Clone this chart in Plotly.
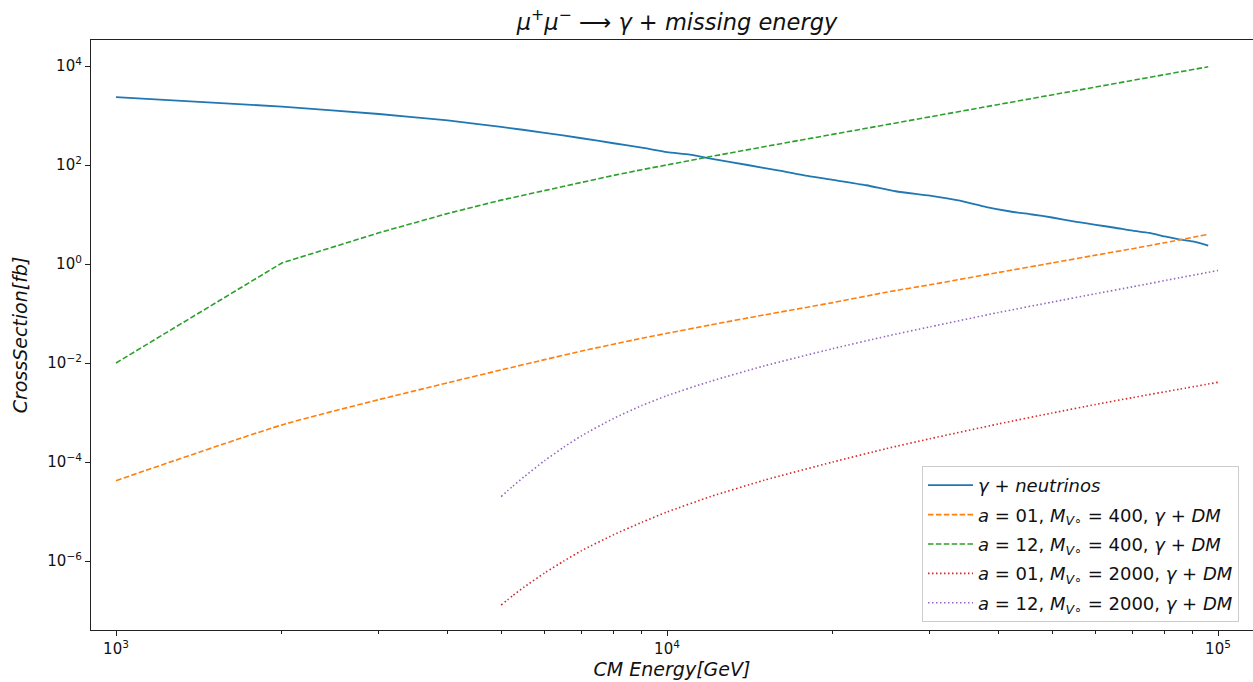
import plotly.graph_objects as go

# ---------------- data ----------------
energy_nu = [1000, 2000, 3000, 4000, 5000, 6000, 7000, 8000, 9000, 10000,
             11000, 12000, 14000, 16000, 18000, 20000, 23000, 26000, 30000,
             34000, 38000, 42000, 46000, 50000, 55000, 60000, 65000, 70000,
             75000, 80000, 85000, 90000, 96000]
xsec_nu = [2344, 1514, 1072, 794, 589, 447, 347, 275, 224, 182,
           162, 135, 100, 77, 60, 50, 39, 29.5, 24.0,
           19.0, 14.1, 11.5, 10.0, 8.7, 7.2, 6.2, 5.4, 4.7,
           4.25, 3.6, 3.15, 2.85, 2.35]

energy_400 = [1000, 2000, 3000, 4000, 5000, 6000, 7000, 8000, 9000, 10000,
              12000, 15000, 20000, 25000, 30000, 40000, 50000, 60000, 70000, 80000, 96000]
xsec_a01_400 = [4.2e-5, 5.6e-4, 1.82e-3, 3.98e-3, 7.24e-3, 1.17e-2, 1.74e-2, 2.40e-2, 3.16e-2, 3.98e-2,
                5.89e-2, 9.33e-2, 0.166, 0.269, 0.38, 0.676, 1.05, 1.51, 2.04, 2.69, 3.98]
xsec_a12_400 = [0.01, 1.05, 4.27, 10.5, 19.5, 30.9, 45.2, 61.7, 80.4, 101,
                148, 234, 417, 640, 933, 1660, 2600, 3760, 5130, 6680, 9660]

energy_2000 = [5000, 5250, 5500, 6000, 6500, 7000, 8000, 9000, 10000, 12000, 15000,
               20000, 25000, 30000, 40000, 50000, 60000, 70000, 85000, 100000]
xsec_a01_2000 = [1.29e-7, 2.0e-7, 2.95e-7, 5.75e-7, 1.0e-6, 1.62e-6, 3.39e-6, 6.03e-6, 9.77e-6, 2.0e-5, 4.27e-5,
                 1.0e-4, 1.86e-4, 2.95e-4, 5.89e-4, 9.77e-4, 1.45e-3, 2.0e-3, 2.95e-3, 4.07e-3]
xsec_a12_2000 = [2.0e-5, 3.24e-5, 5.0e-5, 1.07e-4, 2.0e-4, 3.39e-4, 7.59e-4, 1.38e-3, 2.19e-3, 4.27e-3, 8.71e-3,
                 1.95e-2, 3.47e-2, 5.37e-2, 0.105, 0.170, 0.251, 0.347, 0.525, 0.741]

labels = [
    "<i>γ</i> + <i>neutrinos</i>",
    "<i>a</i> = 01, <i>M</i><sub><i>V</i>∘</sub> = 400, <i>γ</i> + <i>DM</i>",
    "<i>a</i> = 12, <i>M</i><sub><i>V</i>∘</sub> = 400, <i>γ</i> + <i>DM</i>",
    "<i>a</i> = 01, <i>M</i><sub><i>V</i>∘</sub> = 2000, <i>γ</i> + <i>DM</i>",
    "<i>a</i> = 12, <i>M</i><sub><i>V</i>∘</sub> = 2000, <i>γ</i> + <i>DM</i>",
]

x_tick_vals = [1e3, 1e4, 1e5]
x_tick_text = ["10<sup>3</sup>", "10<sup>4</sup>", "10<sup>5</sup>"]
y_tick_vals = [1e4, 1e2, 1e0, 1e-2, 1e-4, 1e-6]
y_tick_text = ["10<sup>4</sup>", "10<sup>2</sup>", "10<sup>0</sup>",
               "10<sup>−2</sup>", "10<sup>−4</sup>", "10<sup>−6</sup>"]

# ---------------- figure ----------------
colors = ["#1f77b4", "#ff7f0e", "#2ca02c", "#d62728", "#9467bd"]
DASH = "5.5px,2.4px"
DOT = "1.5px,2.5px"

series = [
    (energy_nu, xsec_nu, "solid", 1.8, "spline"),
    (energy_400, xsec_a01_400, DASH, 1.6, "spline"),
    (energy_400, xsec_a12_400, DASH, 1.6, "linear"),
    (energy_2000, xsec_a01_2000, DOT, 1.6, "spline"),
    (energy_2000, xsec_a12_2000, DOT, 1.6, "spline"),
]

fig = go.Figure()
for i, (xs, ys, dash, w, shape) in enumerate(series):
    line = dict(color=colors[i], width=w, dash=dash, shape=shape)
    if shape == "spline":
        line["smoothing"] = 0.6
    fig.add_trace(go.Scatter(
        x=xs, y=ys, mode="lines", name=labels[i],
        legendgroup=f"g{i}", line=line,
    ))

minor_x = [m * 10 ** e for e in (3, 4) for m in range(2, 10)]

fig.update_layout(
    width=1253, height=682,
    margin=dict(l=91, r=0, t=40, b=52),
    paper_bgcolor="white", plot_bgcolor="white",
    font=dict(family="DejaVu Sans", size=14, color="#111"),
    title=dict(
        text="<i>μ</i><sup>+</sup><i>μ</i><sup>−</sup> ⟶ <i>γ</i> + <i>missing energy</i>",
        x=677 / 1253, xref="container", xanchor="center",
        y=1 - 22 / 682, yref="container", yanchor="middle",
        font=dict(size=22.5, color="#111"),
    ),
    showlegend=True,
    legend=dict(
        x=(922 - 91) / 1162, y=(630 - 622) / 590, xanchor="left", yanchor="bottom",
        bordercolor="#cccccc", borderwidth=1, bgcolor="rgba(255,255,255,0.85)",
        font=dict(size=18, color="#111"), tracegroupgap=3, itemwidth=45,
    ),
)

fig.update_xaxes(
    type="log", range=[2.95463, 5.06352],
    tickmode="array", tickvals=x_tick_vals, ticktext=x_tick_text,
    ticks="outside", ticklen=5, tickwidth=1, tickcolor="#222",
    minor=dict(tickmode="array", tickvals=minor_x, ticks="outside", ticklen=3,
               tickwidth=0.8, tickcolor="#222", showgrid=False),
    showline=True, linecolor="#222", linewidth=1.2, mirror=True,
    showgrid=False, zeroline=False,
    tickfont=dict(size=15, color="#111"),
    title=dict(text="<i>CM Energy[GeV]</i>", font=dict(size=19, color="#111"), standoff=2),
)
fig.update_yaxes(
    type="log", range=[-7.394, 4.5253],
    tickmode="array", tickvals=y_tick_vals, ticktext=y_tick_text,
    ticks="outside", ticklen=5, tickwidth=1, tickcolor="#222",
    showline=True, linecolor="#222", linewidth=1.2, mirror=False,
    showgrid=False, zeroline=False,
    tickfont=dict(size=15, color="#111"),
    title=dict(text="<i>CrossSection[fb]</i>", font=dict(size=19, color="#111"), standoff=14),
)

fig.write_html("out.html")
